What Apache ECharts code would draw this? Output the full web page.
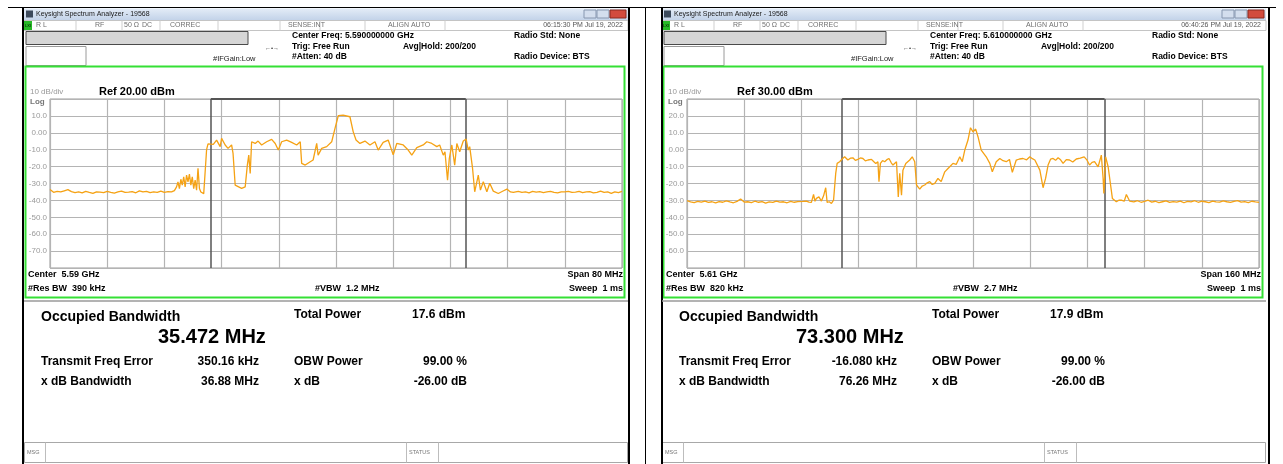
<!DOCTYPE html>
<html><head><meta charset="utf-8">
<script src="https://cdn.jsdelivr.net/npm/echarts@6/dist/echarts.min.js"></script>
<style>html,body{margin:0;padding:0;background:#fff}#c{width:1283px;height:464px}</style>
</head><body><div id="c"></div>
<script>
// ---------- DATA ----------
// Left analyzer trace: frequency offset from centre (MHz), level (dBm)
const LEFT_FREQ = [-40,-39.5,-39,-38.5,-38,-37.5,-37,-36.5,-36,-35.5,-35,-34.5,-34,-33.5,-33,-32.5,-32,-31.5,-31,-30.5,-30,-29.5,-29,-28.5,-28,-27.5,-27,-26.5,-26,-25.5,-25,-24.5,-24,-23.5,-23,-22.6,
 -22.3,-22.1,-21.9,-21.7,-21.5,-21.3,-21.1,-20.9,-20.7,-20.5,-20.3,-20.1,-19.9,-19.7,-19.5,-19.3,-19.1,-18.9,-18.7,-18.5,-18.3,-18.1,-17.9,-17.7,
 -17.16,-16.7,-16.2,-16.0,-15.5,-15.1,-14.6,-14.4,-14.1,-13.9,-13.2,-12.7,-12.4,-12.2,-12.0,-11.8,-11.3,-10.9,-10.4,-9.7,-9.0,-8.5,-8.07,-7.6,-6.9,-6.2,-5.5,-5.0,-4.8,-4.3,-3.6,-3.2,-2.7,-2.5,-2.0,-1.3,-0.6,-0.14,0.32,1.0,1.95,2.4,2.8,3.35,4.05,4.75,5.45,5.9,6.6,7.3,
 8.0,8.5,9.4,10.1,10.6,11.3,12.2,12.7,13.4,14.1,14.5,15.0,15.24,15.6,15.85,16.2,16.6,16.9,17.3,17.8,18.2,18.5,18.7,19.1,19.4,19.9,20.2,20.6,21.1,21.5,22.0,22.7,23.3,23.9,24.4,24.8,
 25.5,26,26.5,27,27.5,28,28.5,29,29.5,30,30.5,31,31.5,32,32.5,33,33.5,34,34.5,35,35.5,36,36.5,37,37.5,38,38.5,39,39.5,40];
const LEFT_LEVEL = [-33.5,-35.2,-34.6,-35.0,-34.3,-33.6,-34.8,-35.4,-34.9,-35.6,-34.7,-35.3,-35.8,-34.9,-35.1,-35.4,-34.6,-35.2,-35.7,-35.0,-34.5,-35.3,-35.1,-34.8,-35.5,-34.4,-35.0,-34.6,-35.4,-34.9,-35.2,-34.5,-35.3,-34.8,-35.0,-34.2,
 -32,-29,-33,-27.5,-31,-26,-32,-25,-29,-24.5,-31,-26,-33,-28,-34,-21,-33,-35,-34.5,-36,-35,-10,-6.5,-5.7,
 -6.9,-4.3,-8.2,-3.3,-7.2,-9.2,-7.2,-12.2,-31,-32,-32.9,-32,-19.1,-13.2,-24,-5.3,-6.3,-4.9,-7.2,-5.3,-3.9,-6.3,-10.2,-5.3,-4.3,-5.7,-7.2,-5.3,-18.1,-19.1,-17.1,-16.1,-6.3,-13.2,-9.2,-8.2,-5.3,2.6,10.1,10.5,9.5,0.7,-4.3,-6.3,-4.9,-7.2,-5.3,-10.2,-5.7,-4.3,
 -13.0,-6.3,-7.2,-10.2,-13.2,-8.8,-7.2,-5.3,-6.3,-8.2,-7.2,-13.2,-11.2,-28,-15.1,-7.2,-19.1,-6.3,-11.2,-4.9,-3.7,-10.2,-8.2,-21.1,-34.9,-25,-33.9,-29,-34.9,-29.9,-34.5,-35.9,-34.6,-33.3,-35.0,-35.3,
 -34.6,-35.2,-34.9,-35.5,-34.7,-35.1,-34.8,-35.4,-35.0,-34.6,-35.2,-35.6,-34.9,-35.0,-34.7,-35.3,-35.1,-34.6,-35.4,-35.0,-34.8,-35.5,-35.2,-34.5,-35.3,-35.0,-35.8,-34.9,-35.4,-34.7];
// Right analyzer trace
const RIGHT_FREQ = [-80,-79,-78,-77,-76,-75,-74,-73,-72,-71,-70,-69,-68,-67,-66,-65,-64,-63,-62,-61,-60,-59,-58,-57,-56,-55,-54,-53,-52,-51,-50,-49,
 -48.5,-47.5,-46.6,-45.9,-45.2,-44.6,-44.2,-43.8,-43.1,-42.4,-41.8,-41.2,-40.8,-40.2,-39.6,-39.0,-38.4,-38.0,-37.3,-36.6,-35.9,-35.0,-34.3,-33.6,-32.9,-32.2,-31.5,-30.8,-30.1,-29.4,-28.4,-27.8,-27.2,-26.6,-26.3,-25.9,-25.3,-24.7,-24.1,-23.5,-22.9,-22.4,-21.4,-20.9,-20.5,-20.0,-19.6,-18.8,-17.7,-17.0,-16.3,-15.8,-14.9,-14.2,-13.5,-12.8,-12.1,-11.4,-10.7,-9.8,-8.9,-7.9,-7.0,-6.3,-5.6,-4.7,-3.7,-3.0,-2.3,-1.4,-0.7,0.0,0.75,1.4,2.3,3.7,4.7,5.4,6.5,7.5,
 8.4,9.3,10.2,11.0,12.1,13.0,14.0,15.0,15.9,16.6,17.3,18.7,19.6,20.3,21.0,21.7,22.4,23.1,23.8,24.5,25.2,26.1,27.0,27.9,28.9,30.0,31.1,31.9,32.6,33.3,34.0,35.0,35.9,36.4,36.6,37.1,37.8,38.2,39.0,40.1,40.8,41.5,42.3,42.9,43.8,
 45,46,47,48,49,50,51,52,53,54,55,56,57,58,59,60,61,62,63,64,65,66,67,68,69,70,71,72,73,74,75,76,77,78,79,80];
const RIGHT_LEVEL = [-30.2,-30.9,-31.3,-30.6,-31.0,-30.4,-31.2,-30.8,-31.5,-30.7,-31.1,-30.3,-30.9,-31.4,-30.6,-29.2,-31.0,-30.8,-31.3,-30.5,-31.1,-30.7,-31.6,-30.9,-31.2,-30.4,-31.0,-30.8,-31.4,-30.6,-31.1,-30.7,
 -31.2,-30.6,-30.4,-31.0,-31.2,-26.5,-30.5,-28.8,-27.9,-30.4,-27.3,-22.5,-31.2,-30.8,-31.8,-29.8,-14.0,-8.1,-7.1,-5.5,-4.2,-6.1,-5.0,-4.8,-6.3,-5.7,-4.9,-5.2,-6.6,-6.1,-5.7,-7.0,-8.1,-7.1,-18.9,-8.1,-6.4,-7.1,-5.9,-5.2,-7.6,-9.1,-7.1,-27.9,-14.0,-26.9,-12.1,-8.1,-6.1,-4.2,-7.1,-20.9,-23.3,-21.5,-20.9,-19.6,-18.9,-20.6,-19.9,-17.0,-18.9,-13.1,-11.1,-9.6,-8.1,-8.7,-4.2,-7.1,-0.2,5.7,13.0,10.6,12.2,7.7,-0.2,-4.2,-8.1,-13.1,-7.1,-5.2,
 -6.5,-7.1,-5.8,-13.4,-6.1,-5.5,-5.2,-6.0,-4.2,-5.3,-6.1,-12.1,-22.5,-17.0,-9.1,-5.6,-5.2,-6.3,-4.8,-6.0,-8.1,-5.9,-6.1,-7.3,-5.5,-5.0,-4.2,-6.2,-9.1,-7.5,-7.1,-10.1,-3.2,-17.0,-25.9,-4.2,-10.1,-11.1,-28.9,-30.8,-29.9,-29.8,-30.5,-26.5,-30.4,
 -30.9,-30.2,-31.1,-30.6,-29.9,-31.0,-30.5,-31.3,-30.8,-30.3,-31.2,-30.7,-31.0,-30.4,-31.4,-30.6,-30.9,-30.2,-31.1,-30.5,-30.8,-31.3,-30.4,-30.9,-31.0,-30.3,-30.8,-31.2,-30.6,-30.1,-31.0,-30.7,-31.3,-30.5,-30.9,-31.2];
// OBW marker positions (MHz offset)
const LEFT_MARKERS = [-17.5, 18.15];
const RIGHT_MARKERS = [-36.6, 36.8];
// Axis settings
const LEFT_SPAN = [-40, 40], RIGHT_SPAN = [-80, 80];
const LEFT_REF = 20, RIGHT_REF = 30;   // top of screen, dBm
const DB_PER_DIV = 10, DIVS = 10;

const PANELS = [
 {dx:0, time:'06:15:30 PM Jul 19, 2022', cf:'Center Freq: 5.590000000 GHz', ref:'Ref 20.00 dBm', center:'Center  5.59 GHz', span:'Span 80 MHz', rbw:'#Res BW  390 kHz', vbw:'#VBW  1.2 MHz', obw:'35.472 MHz', tp:'17.6 dBm', tfe:'350.16 kHz', xbw:'36.88 MHz'},
 {dx:638, time:'06:40:26 PM Jul 19, 2022', cf:'Center Freq: 5.610000000 GHz', ref:'Ref 30.00 dBm', center:'Center  5.61 GHz', span:'Span 160 MHz', rbw:'#Res BW  820 kHz', vbw:'#VBW  2.7 MHz', obw:'73.300 MHz', tp:'17.9 dBm', tfe:'-16.080 kHz', xbw:'76.26 MHz'}
];

// ---------- CHART ----------
const FONT = '"Liberation Sans", Arial, sans-serif';
const chart = echarts.init(document.getElementById('c'), null, {renderer:'canvas'});
const pairs = (xs, ys) => xs.map((x, i) => [x, ys[i]]);

function T(text, x, y, size, opt) {
  opt = opt || {};
  return {type:'text', z:50, style:{text, x, y, fontSize:size, fontFamily:FONT, fontWeight:opt.bold?'bold':'normal',
    fill:opt.color||'#000', textAlign:opt.align||'left', textVerticalAlign:'middle', verticalAlign:'middle'}};
}
function R(x, y, w, h, fill, stroke, lw) {
  return {type:'rect', z:40, shape:{x, y, width:w, height:h}, style:{fill:fill||'none', stroke:stroke||null, lineWidth:lw||1}};
}
function L(x1, y1, x2, y2, color, lw) {
  return {type:'line', z:45, shape:{x1, y1, x2, y2}, style:{stroke:color, lineWidth:lw||1}};
}

const G = [];
// outer frames
G.push(L(8, 7.5, 1276, 7.5, '#000', 1));
[23, 629, 662, 1269].forEach(x => G.push(L(x, 7, x, 464, '#000', 2)));
G.push(L(645.5, 7, 645.5, 464, '#000', 1));

PANELS.forEach(p => {
  const d = p.dx;
  // title bar
  G.push({type:'rect', z:40, shape:{x:24+d, y:8.5, width:604, height:11.5},
    style:{fill:new echarts.graphic.LinearGradient(0,0,0,1,[{offset:0,color:'#e3ecf7'},{offset:1,color:'#c3d3e9'}])}});
  G.push(R(26+d, 10.5, 7, 7, '#3c4a5c'));
  G.push(T('Keysight Spectrum Analyzer - 19568', 36+d, 14.5, 7, {color:'#1a1a1a'}));
  G.push(R(584+d, 10, 12, 8, '#d3deee', '#8797b0'));
  G.push(R(597+d, 10, 12, 8, '#d3deee', '#8797b0'));
  G.push(R(610+d, 10, 16, 8, '#d24b3e', '#8a2a20'));
  // status row
  G.push(R(24+d, 20.5, 604, 10, '#fff', '#c4c4c4'));
  G.push(R(24+d, 21, 8, 9, '#27b927'));
  G.push(T('LXI', 28+d, 25.5, 4, {color:'#000', align:'center'}));
  [76,122,160,218,280,320,365,445].forEach(x => G.push(L(x+d, 20.5, x+d, 30.5, '#cfcfcf', 1)));
  G.push(T('R L', 36+d, 25.5, 7, {color:'#707070'}));
  G.push(T('RF', 95+d, 25.5, 7, {color:'#707070'}));
  G.push(T('50 Ω', 124+d, 25.5, 7, {color:'#707070'}));
  G.push(T('DC', 142+d, 25.5, 7, {color:'#707070'}));
  G.push(T('CORREC', 170+d, 25.5, 7, {color:'#707070'}));
  G.push(T('SENSE:INT', 288+d, 25.5, 7, {color:'#707070'}));
  G.push(T('ALIGN AUTO', 388+d, 25.5, 7, {color:'#707070'}));
  G.push(T(p.time, 623+d, 25.5, 7, {color:'#555', align:'right'}));
  // header
  G.push(R(26+d, 31.5, 222, 13, '#d6d6d6', '#4a4a4a'));
  G.push(R(26+d, 46.5, 60, 19, '#fff', '#9a9a9a'));
  G.push(T('←•→', 272+d, 48, 6, {color:'#333', align:'center'}));
  G.push(T(p.cf, 292+d, 36, 8.5, {bold:true}));
  G.push(T('Trig: Free Run', 292+d, 46.5, 8.5, {bold:true}));
  G.push(T('Avg|Hold: 200/200', 403+d, 46.5, 8.5, {bold:true}));
  G.push(T('#Atten: 40 dB', 292+d, 57, 8.5, {bold:true}));
  G.push(T('#IFGain:Low', 213+d, 58.5, 7.5, {color:'#222'}));
  G.push(T('Radio Std: None', 514+d, 36, 8.5, {bold:true}));
  G.push(T('Radio Device: BTS', 514+d, 57, 8.5, {bold:true}));
  // green frame
  G.push(R(25.5+d, 66.5, 599, 231, 'none', '#35e035', 2));
  G.push(T('10 dB/div', 30+d, 92, 8, {color:'#999'}));
  G.push(T(p.ref, 99+d, 92, 11, {bold:true}));
  G.push(T('Log', 30+d, 102, 8, {color:'#777', bold:true}));
  G.push(T(p.center, 28+d, 275, 9, {bold:true}));
  G.push(T(p.rbw, 28+d, 289, 9, {bold:true}));
  G.push(T(p.vbw, 315+d, 289, 9, {bold:true}));
  G.push(T(p.span, 623+d, 275, 9, {bold:true, align:'right'}));
  G.push(T('Sweep  1 ms', 623+d, 289, 9, {bold:true, align:'right'}));
  // results area
  G.push(L(24+d, 301, 628+d, 301, '#9a9a9a', 1.5));
  G.push(T('Occupied Bandwidth', 41+d, 317, 14, {bold:true}));
  G.push(T(p.obw, 158+d, 337, 20, {bold:true}));
  G.push(T('Total Power', 294+d, 315, 12, {bold:true}));
  G.push(T(p.tp, 412+d, 315, 12, {bold:true}));
  G.push(T('Transmit Freq Error', 41+d, 362, 12, {bold:true}));
  G.push(T(p.tfe, 259+d, 362, 12, {bold:true, align:'right'}));
  G.push(T('OBW Power', 294+d, 362, 12, {bold:true}));
  G.push(T('99.00 %', 467+d, 362, 12, {bold:true, align:'right'}));
  G.push(T('x dB Bandwidth', 41+d, 382, 12, {bold:true}));
  G.push(T(p.xbw, 259+d, 382, 12, {bold:true, align:'right'}));
  G.push(T('x dB', 294+d, 382, 12, {bold:true}));
  G.push(T('-26.00 dB', 467+d, 382, 12, {bold:true, align:'right'}));
  // bottom status bar
  G.push(R(24.5+d, 442.5, 603, 20, '#fff', '#a8a8a8'));
  G.push(L(45.5+d, 442.5, 45.5+d, 462.5, '#bdbdbd', 1));
  G.push(L(406.5+d, 442.5, 406.5+d, 462.5, '#bdbdbd', 1));
  G.push(L(438.5+d, 442.5, 438.5+d, 462.5, '#bdbdbd', 1));
  G.push(T('MSG', 27+d, 452.5, 5.5, {color:'#777'}));
  G.push(T('STATUS', 409+d, 452.5, 5.5, {color:'#777'}));
});

function yLabel(v, ref) {
  if (v >= ref || v <= ref - DB_PER_DIV * DIVS) return '';
  return v === 0 ? '0.00' : v.toFixed(1);
}
function axes(idx, span, ref) {
  return {
    x: {gridIndex:idx, type:'value', min:span[0], max:span[1], interval:(span[1]-span[0])/DIVS,
        axisLabel:{show:false}, axisTick:{show:false}, axisLine:{show:false},
        splitLine:{show:true, lineStyle:{color:'#b4b4b4', width:1.2}}},
    y: {gridIndex:idx, type:'value', min:ref-DB_PER_DIV*DIVS, max:ref, interval:DB_PER_DIV,
        axisTick:{show:false}, axisLine:{show:false},
        axisLabel:{color:'#9a9a9a', fontSize:8, fontFamily:FONT, margin:3, formatter:v => yLabel(v, ref)},
        splitLine:{show:true, lineStyle:{color:'#b4b4b4', width:1.2}}}
  };
}
const a0 = axes(0, LEFT_SPAN, LEFT_REF), a1 = axes(1, RIGHT_SPAN, RIGHT_REF);

function traceSeries(idx, xs, ys) {
  return {type:'line', xAxisIndex:idx, yAxisIndex:idx, data:pairs(xs, ys), showSymbol:false, symbol:'none',
    lineStyle:{color:'#f5a214', width:1.3}, z:5, silent:true, animation:false};
}
function markerSeries(idx, m, ref) {
  return {type:'line', xAxisIndex:idx, yAxisIndex:idx, data:[[m[0], ref],[m[1], ref]], symbol:'none',
    lineStyle:{color:'#555', width:2}, z:3, silent:true, animation:false,
    markLine:{symbol:'none', silent:true, animation:false, label:{show:false},
      lineStyle:{color:'#555', type:'solid', width:1.5}, data:[{xAxis:m[0]},{xAxis:m[1]}]}};
}

chart.setOption({
  animation:false,
  backgroundColor:'#fff',
  grid:[
    {left:50, top:99, width:572, height:169, show:true, borderColor:'#9a9a9a', borderWidth:1, containLabel:false},
    {left:687, top:99, width:572, height:169, show:true, borderColor:'#9a9a9a', borderWidth:1, containLabel:false}
  ],
  xAxis:[a0.x, a1.x],
  yAxis:[a0.y, a1.y],
  series:[
    markerSeries(0, LEFT_MARKERS, LEFT_REF),
    markerSeries(1, RIGHT_MARKERS, RIGHT_REF),
    traceSeries(0, LEFT_FREQ, LEFT_LEVEL),
    traceSeries(1, RIGHT_FREQ, RIGHT_LEVEL)
  ],
  graphic:G
});
</script></body></html>
